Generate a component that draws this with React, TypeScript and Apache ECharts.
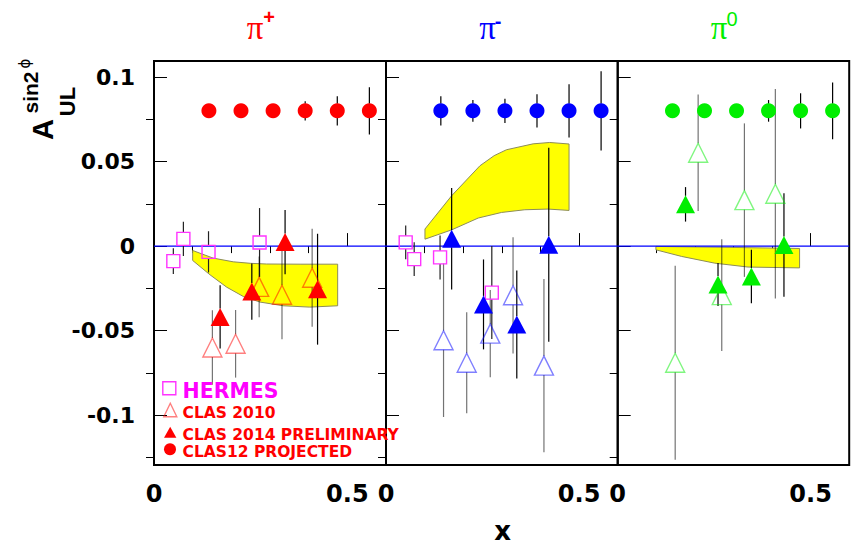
import { useEffect, useRef } from 'react';
import * as echarts from 'echarts';

// CLAS12 projected points (same x bins for every pion)
const projX = [0.142, 0.225, 0.308, 0.391, 0.474, 0.557];
const projPipY = [0.08, 0.08, 0.08, 0.08, 0.08, 0.08];
const projPipErr = [0.003, 0.003, 0.004, 0.0057, 0.0087, 0.014];
const projPimY = [0.08, 0.08, 0.08, 0.08, 0.08, 0.08];
const projPimErr = [0.0087, 0.0064, 0.0072, 0.0099, 0.0157, 0.0234];
const projPi0Y = [0.08, 0.08, 0.08, 0.08, 0.08, 0.08];
const projPi0Err = [0.003, 0.004, 0.0036, 0.0064, 0.0104, 0.0168];

// HERMES
const hermesPipX = [0.05, 0.076, 0.141, 0.273];
const hermesPipY = [-0.0089, 0.0043, -0.0034, 0.0021];
const hermesPipErr = [0.0076, 0.0101, 0.0122, 0.0204];
const hermesPimX = [0.051, 0.073, 0.14, 0.274];
const hermesPimY = [0.0022, -0.0077, -0.0067, -0.0275];
const hermesPimErr = [0.01, 0.01, 0.013, 0.0275];

// CLAS 2010
const clas10PipX = [0.151, 0.211, 0.272, 0.331, 0.409];
const clas10PipY = [-0.06, -0.0578, -0.0241, -0.0288, -0.0187];
const clas10PipErr = [0.022, 0.02, 0.018, 0.0263, 0.029];
const clas10PimX = [0.149, 0.209, 0.27, 0.329, 0.409];
const clas10PimY = [-0.0557, -0.069, -0.0518, -0.0291, -0.0707];
const clas10PimErr = [0.0454, 0.0299, 0.0258, 0.0344, 0.0512];
const clas10Pi0X = [0.149, 0.2085, 0.2697, 0.3284, 0.4086];
const clas10Pi0Y = [-0.069, 0.0552, -0.029, 0.0272, 0.031];
const clas10Pi0Err = [0.0574, 0.0345, 0.033, 0.0454, 0.062];

// CLAS 2014 preliminary
const clas14PipX = [0.171, 0.253, 0.339, 0.423];
const clas14PipY = [-0.0419, -0.0269, 0.0024, -0.0255];
const clas14PipErr = [0.0187, 0.0166, 0.019, 0.0328];
const clas14PimX = [0.17, 0.2525, 0.3387, 0.4215];
const clas14PimY = [0.0043, -0.0345, -0.0464, 0.0008];
const clas14PimErr = [0.03, 0.0266, 0.032, 0.0574];
const clas14Pi0X = [0.1758, 0.26, 0.3465, 0.4309];
const clas14Pi0Y = [0.0247, -0.0227, -0.018, 0.0007];
const clas14Pi0Err = [0.0102, 0.0127, 0.0158, 0.0306];

// model bands: upper and lower edges
const bandPipUpX = [0.1, 0.153, 0.205, 0.25, 0.291, 0.38, 0.475];
const bandPipUpY = [-0.0026, -0.0071, -0.0093, -0.0102, -0.0106, -0.0107, -0.0107];
const bandPipLoX = [0.1, 0.145, 0.188, 0.231, 0.274, 0.334, 0.403, 0.475];
const bandPipLoY = [-0.0085, -0.017, -0.0243, -0.0298, -0.0331, -0.0353, -0.0361, -0.0353];
const bandPimUpX = [0.1009, 0.17, 0.2431, 0.28, 0.312, 0.381, 0.424, 0.474];
const bandPimUpY = [0.0101, 0.0298, 0.0475, 0.0535, 0.057, 0.0605, 0.0613, 0.0604];
const bandPimLoX = [0.1009, 0.17, 0.2388, 0.299, 0.3595, 0.4198, 0.474];
const bandPimLoY = [0.0041, 0.0096, 0.0166, 0.0199, 0.0215, 0.0219, 0.0211];
const bandPi0UpX = [0.099, 0.3, 0.4714];
const bandPi0UpY = [-0.0002, -0.0008, -0.0014];
const bandPi0LoX = [0.099, 0.1655, 0.2516, 0.3378, 0.4714];
const bandPi0LoY = [-0.0022, -0.0061, -0.0101, -0.0124, -0.0129];

// axes
const xMin = 0;
const xMax = 0.6;
const yMin = -0.1295;
const yMax = 0.1095;
const xLabelValues = [0, 0.5];
const xMajorTicks = [0.5];
const xMinorTicks = [0.1, 0.2, 0.3, 0.4];
const yMajorTicks = [-0.1, -0.05, 0, 0.05, 0.1];
const yMinorTicks = [-0.125, -0.075, -0.025, 0.025, 0.075];

const sansBold = '"DejaVu Sans", "Liberation Sans", sans-serif';
const narrowBold = '"Liberation Sans", Arial, sans-serif';

const zip2 = (xs: number[], ys: number[]) => xs.map((x, i) => [x, ys[i]]);
const zip3 = (xs: number[], ys: number[], es: number[]) => xs.map((x, i) => [x, ys[i], es[i]]);

type Points = { x: number[]; y: number[]; err: number[] };
type Panel = {
  color: string;
  fade: string;
  proj: { y: number[]; err: number[] };
  hermes?: Points;
  clas10: Points;
  clas14: Points;
  band: { ux: number[]; uy: number[]; lx: number[]; ly: number[] };
};

const panels: Panel[] = [
  {
    color: '#ff0000',
    fade: 'rgba(255,0,0,0.5)',
    proj: { y: projPipY, err: projPipErr },
    hermes: { x: hermesPipX, y: hermesPipY, err: hermesPipErr },
    clas10: { x: clas10PipX, y: clas10PipY, err: clas10PipErr },
    clas14: { x: clas14PipX, y: clas14PipY, err: clas14PipErr },
    band: { ux: bandPipUpX, uy: bandPipUpY, lx: bandPipLoX, ly: bandPipLoY },
  },
  {
    color: '#0000ff',
    fade: 'rgba(0,0,255,0.5)',
    proj: { y: projPimY, err: projPimErr },
    hermes: { x: hermesPimX, y: hermesPimY, err: hermesPimErr },
    clas10: { x: clas10PimX, y: clas10PimY, err: clas10PimErr },
    clas14: { x: clas14PimX, y: clas14PimY, err: clas14PimErr },
    band: { ux: bandPimUpX, uy: bandPimUpY, lx: bandPimLoX, ly: bandPimLoY },
  },
  {
    color: '#00ee00',
    fade: 'rgba(0,238,0,0.5)',
    proj: { y: projPi0Y, err: projPi0Err },
    clas10: { x: clas10Pi0X, y: clas10Pi0Y, err: clas10Pi0Err },
    clas14: { x: clas14Pi0X, y: clas14Pi0Y, err: clas14Pi0Err },
    band: { ux: bandPi0UpX, uy: bandPi0UpY, lx: bandPi0LoX, ly: bandPi0LoY },
  },
];

const gridLefts = [154, 386, 617.7];
const gridWidths = [232, 231.7, 231.5];

function bandSeries(g: number, b: Panel['band']) {
  const upper = zip2(b.ux, b.uy);
  const lower = zip2(b.lx, b.ly).reverse();
  return {
    type: 'custom',
    xAxisIndex: 2 * g,
    yAxisIndex: 2 * g,
    z: 1,
    silent: true,
    data: [upper[0]],
    renderItem: (_p: any, api: any) => {
      const pts = upper.concat(lower).map((p) => api.coord(p));
      return {
        type: 'polygon',
        shape: { points: pts },
        style: { fill: '#ffff00', stroke: '#8c8c5a', lineWidth: 1 },
      };
    },
  };
}

function errorSeries(g: number, xs: number[], ys: number[], es: number[], gap: number, color: string) {
  return {
    type: 'custom',
    xAxisIndex: 2 * g,
    yAxisIndex: 2 * g,
    z: 3,
    silent: true,
    data: zip3(xs, ys, es),
    renderItem: (_p: any, api: any) => {
      const x = api.value(0);
      const y = api.value(1);
      const e = api.value(2);
      const c = api.coord([x, y]);
      const hi = api.coord([x, y + e]);
      const lo = api.coord([x, y - e]);
      const children: any[] = [];
      const st = { stroke: color, lineWidth: 1.2 };
      if (c[1] - gap > hi[1]) {
        children.push({ type: 'line', shape: { x1: c[0], y1: hi[1], x2: c[0], y2: c[1] - gap }, style: st });
      }
      if (lo[1] > c[1] + gap) {
        children.push({ type: 'line', shape: { x1: c[0], y1: c[1] + gap, x2: c[0], y2: lo[1] }, style: st });
      }
      return { type: 'group', children };
    },
  };
}

function markerSeries(g: number, xs: number[], ys: number[], symbol: string, size: any, itemStyle: any) {
  return {
    type: 'scatter',
    xAxisIndex: 2 * g,
    yAxisIndex: 2 * g,
    z: 4,
    silent: true,
    symbol,
    symbolSize: size,
    data: zip2(xs, ys),
    itemStyle: { opacity: 1, ...itemStyle },
    emphasis: { disabled: true },
  };
}

function buildSeries() {
  const series: any[] = [];
  panels.forEach((p, g) => {
    series.push(bandSeries(g, p.band));
    series.push({
      type: 'line',
      xAxisIndex: 2 * g,
      yAxisIndex: 2 * g,
      z: 2,
      silent: true,
      showSymbol: false,
      data: [[xMin, 0], [xMax, 0]],
      lineStyle: { color: '#0000ff', width: 1.1, opacity: 1 },
    });
    if (p.hermes) {
      series.push(errorSeries(g, p.hermes.x, p.hermes.y, p.hermes.err, 6.7, '#222'));
      series.push(
        markerSeries(g, p.hermes.x, p.hermes.y, 'rect', 13, {
          color: 'rgba(0,0,0,0)',
          borderColor: '#ff33ff',
          borderWidth: 1.4,
        })
      );
    }
    series.push(errorSeries(g, p.clas10.x, p.clas10.y, p.clas10.err, 9.5, 'rgba(0,0,0,0.55)'));
    series.push(
      markerSeries(g, p.clas10.x, p.clas10.y, 'triangle', [19, 19], {
        color: 'rgba(0,0,0,0)',
        borderColor: p.fade,
        borderWidth: 1.4,
      })
    );
    series.push(errorSeries(g, p.clas14.x, p.clas14.y, p.clas14.err, 8.5, '#000'));
    series.push(markerSeries(g, p.clas14.x, p.clas14.y, 'triangle', [19, 18], { color: p.color }));
    series.push(errorSeries(g, projX, p.proj.y, p.proj.err, 7, '#000'));
    series.push(markerSeries(g, projX, p.proj.y, 'circle', 15, { color: p.color }));
  });
  return series;
}

function buildAxes() {
  const xAxis: any[] = [];
  const yAxis: any[] = [];
  for (let g = 0; g < 3; g++) {
    xAxis.push({
      gridIndex: g,
      type: 'value',
      min: xMin,
      max: xMax,
      axisLine: { show: false },
      splitLine: { show: false },
      axisTick: { show: true, inside: true, length: 13, customValues: xMajorTicks, lineStyle: { color: '#000', width: 1 } },
      axisLabel: {
        show: true,
        customValues: xLabelValues,
        fontSize: 24,
        fontWeight: 'bold',
        fontFamily: sansBold,
        color: '#000',
        margin: 29,
        verticalAlign: 'middle',
      },
    });
    xAxis.push({
      gridIndex: g,
      type: 'value',
      min: xMin,
      max: xMax,
      axisLine: { show: false },
      splitLine: { show: false },
      axisTick: { show: true, inside: true, length: 7, customValues: xMinorTicks, lineStyle: { color: '#000', width: 1 } },
      axisLabel: { show: false },
    });
    yAxis.push({
      gridIndex: g,
      type: 'value',
      min: yMin,
      max: yMax,
      axisLine: { show: false },
      splitLine: { show: false },
      axisTick: { show: true, inside: true, length: 13, customValues: yMajorTicks, lineStyle: { color: '#000', width: 1 } },
      axisLabel:
        g === 0
          ? {
              show: true,
              customValues: yMajorTicks,
              fontSize: 22,
              fontWeight: 'bold',
              fontFamily: sansBold,
              color: '#000',
              margin: 19,
            }
          : { show: false },
    });
    yAxis.push({
      gridIndex: g,
      type: 'value',
      min: yMin,
      max: yMax,
      axisLine: { show: false },
      splitLine: { show: false },
      axisTick: { show: true, inside: true, length: 8, customValues: yMinorTicks, lineStyle: { color: '#000', width: 1 } },
      axisLabel: { show: false },
    });
  }
  return { xAxis, yAxis };
}

function text(x: number, y: number, str: string, size: number, weight: string, family: string, fill: string, extra: any = {}) {
  return {
    type: 'text',
    x,
    y,
    rotation: extra.rotation || 0,
    silent: true,
    z: 10,
    style: {
      text: str,
      fontSize: size,
      fontWeight: weight,
      fontFamily: family,
      fill,
      textAlign: extra.align || 'center',
      textVerticalAlign: 'middle',
      align: extra.align || 'center',
      verticalAlign: 'middle',
    },
  };
}

function buildGraphic() {
  const serif = '"Liberation Serif", "DejaVu Serif", serif';
  const up = Math.PI / 2;
  return [
    // panel titles
    text(255, 27.5, 'π', 33, 'normal', serif, '#ff0000'),
    text(269, 16.7, '+', 20, 'bold', narrowBold, '#ff0000'),
    text(487.5, 27.5, 'π', 33, 'normal', serif, '#0000ff'),
    text(498, 20.5, '-', 20, 'bold', narrowBold, '#0000ff'),
    text(719, 27.5, 'π', 33, 'normal', serif, '#00ee00'),
    text(732, 19, '0', 20, 'normal', narrowBold, '#00ee00'),
    // vertical axis title
    text(42.5, 129.5, 'A', 29, 'bold', narrowBold, '#000', { rotation: up }),
    text(30.5, 92.5, 'sin2', 21, 'bold', narrowBold, '#000', { rotation: up }),
    text(25, 63.5, 'ϕ', 15, 'normal', '"DejaVu Sans", sans-serif', '#000', { rotation: up }),
    text(67.4, 101.5, 'UL', 22, 'bold', narrowBold, '#000', { rotation: up }),
    // horizontal axis title
    text(502.7, 531, 'x', 26, 'bold', sansBold, '#000'),
    // legend
    {
      type: 'rect',
      silent: true,
      z: 10,
      shape: { x: 162.8, y: 381.8, width: 13, height: 13 },
      style: { fill: 'none', stroke: '#ff33ff', lineWidth: 1.4 },
    },
    text(182.5, 390.7, 'HERMES', 20.5, 'bold', sansBold, '#ff00ff', { align: 'left' }),
    {
      type: 'polygon',
      silent: true,
      z: 10,
      shape: { points: [[170.3, 403.3], [163.8, 416.7], [176.8, 416.7]] },
      style: { fill: 'none', stroke: 'rgba(255,0,0,0.5)', lineWidth: 1.4 },
    },
    text(182.5, 412.7, 'CLAS 2010', 15.5, 'bold', sansBold, '#ff0000', { align: 'left' }),
    {
      type: 'polygon',
      silent: true,
      z: 10,
      shape: { points: [[170.2, 426.8], [164, 437.8], [176.4, 437.8]] },
      style: { fill: '#ff0000' },
    },
    text(182.5, 435, 'CLAS 2014 PRELIMINARY', 15.5, 'bold', sansBold, '#ff0000', { align: 'left' }),
    {
      type: 'circle',
      silent: true,
      z: 10,
      shape: { cx: 170, cy: 449.3, r: 6 },
      style: { fill: '#ff0000' },
    },
    text(182.5, 452, 'CLAS12 PROJECTED', 15.5, 'bold', sansBold, '#ff0000', { align: 'left' }),
  ];
}

export default function App() {
  const ref = useRef<HTMLDivElement>(null);

  useEffect(() => {
    if (!ref.current) return;
    const chart = echarts.init(ref.current, null, { renderer: 'svg' });
    const { xAxis, yAxis } = buildAxes();
    chart.setOption({
      animation: false,
      backgroundColor: '#ffffff',
      grid: gridLefts.map((left, i) => ({
        left,
        top: 61,
        width: gridWidths[i],
        height: 404,
        show: true,
        borderColor: '#000',
        borderWidth: 2,
        backgroundColor: 'transparent',
      })),
      xAxis,
      yAxis,
      series: buildSeries(),
      graphic: buildGraphic(),
    });
    return () => chart.dispose();
  }, []);

  return (
    <div
      ref={ref}
      style={{ position: 'absolute', left: 0, top: 0, width: 854, height: 546 }}
    />
  );
}
